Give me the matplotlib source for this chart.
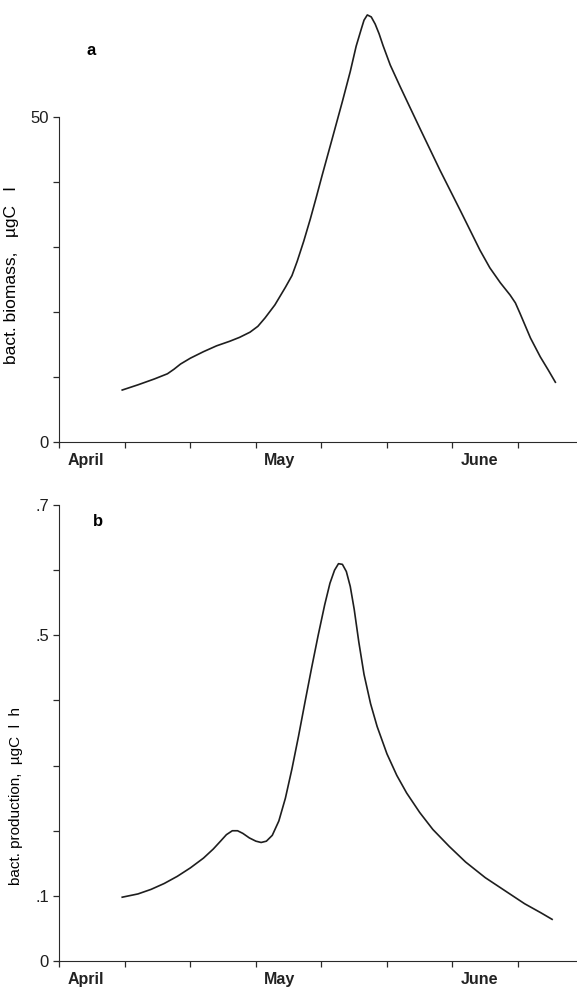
import matplotlib.pyplot as plt

# days counted from 1 April
day_a = [9.6, 12, 14.5, 16.5, 17.5, 18.5, 20, 22, 24, 26, 27.5, 29.1, 30.3, 31.4, 32.9, 34.5,
         35.5, 36.3, 37.3, 38.3, 39.2, 40.1, 41.6, 43.2, 44.4, 45.3, 46.1, 46.5, 47.0, 47.6,
         48.2, 48.8, 49.4, 50.5, 52.0, 53.5, 55.1, 58.1, 61.2, 64.2, 65.7, 67.3, 68.8, 69.6,
         70.3, 71.1, 71.9, 73.4, 74.6, 75.7]
biomass = [8.0, 8.8, 9.7, 10.5, 11.2, 12.0, 12.9, 13.9, 14.8, 15.5, 16.1, 16.9, 17.8, 19.1,
           21.1, 23.8, 25.6, 27.8, 30.9, 34.3, 37.6, 41.0, 46.5, 52.4, 57.0, 60.9, 63.6, 64.9,
           65.7, 65.4, 64.3, 62.8, 61.0, 58.0, 54.7, 51.5, 48.1, 41.8, 35.6, 29.5, 26.8, 24.5,
           22.6, 21.4, 19.8, 17.9, 16.0, 13.1, 11.1, 9.2]

day_b = [9.6, 12, 14, 16, 18, 20, 22, 23.5, 24.6, 25.5, 26.4, 27.2, 28, 29, 30, 30.8, 31.6,
         32.5, 33.5, 34.5, 35.5, 36.5, 37.5, 38.5, 39.5, 40.5, 41.3, 42, 42.6, 43.2, 43.8,
         44.4, 45, 45.7, 46.5, 47.5, 48.5, 50, 51.5, 53, 55, 57, 59.5, 62, 65, 68, 71, 73.5, 75.2]
production = [0.098, 0.103, 0.110, 0.119, 0.130, 0.143, 0.158, 0.172, 0.184, 0.194, 0.200,
              0.200, 0.196, 0.189, 0.184, 0.182, 0.184, 0.193, 0.215, 0.250, 0.295, 0.345,
              0.398, 0.450, 0.500, 0.547, 0.580, 0.600, 0.610, 0.609, 0.598, 0.575, 0.540,
              0.490, 0.440, 0.395, 0.360, 0.318, 0.285, 0.258, 0.228, 0.202, 0.176, 0.152,
              0.128, 0.108, 0.088, 0.074, 0.064]

ticks_x = [0, 10, 20, 30, 40, 50, 60, 70]
months = ['April', 'May', 'June']
month_pos = [0, 30, 60]

plt.rcParams['font.family'] = ['Liberation Sans', 'DejaVu Sans']

fig = plt.figure(figsize=(5.77, 9.88), dpi=100)
ax1 = fig.add_axes([0.1028, 0.5526, 0.8972, 0.4474])
ax2 = fig.add_axes([0.1028, 0.0273, 0.8972, 0.4615])

ax1.plot(day_a, biomass, color='#1e1e1e', lw=1.2)
ax2.plot(day_b, production, color='#1e1e1e', lw=1.2)

for ax in (ax1, ax2):
    ax.set_xlim(0, 79)
    ax.spines['top'].set_visible(False)
    ax.spines['right'].set_visible(False)
    for s in ('left', 'bottom'):
        ax.spines[s].set_color('#2a2a2a')
    ax.set_xticks(ticks_x)
    ax.set_xticklabels([])
    ax.tick_params(direction='out', length=4, width=0.9, labelsize=12, colors='#2a2a2a',
                   labelcolor='#1e1e1e')
    for m, p in zip(months, month_pos):
        ax.annotate(m, (p, 0), xytext=(6, -8), textcoords='offset points',
                    ha='left', va='top', fontsize=11.5, fontweight='bold', color='#222222')

ax1.set_ylim(0, 68)
ax1.spines['left'].set_bounds(0, 50)
ax1.set_yticks([0, 10, 20, 30, 40, 50])
ax1.set_yticklabels(['0', '', '', '', '', '50'])
ax1.set_ylabel('bact. biomass,   \u00b5gC   l', fontsize=12.5)
ax1.yaxis.set_label_coords(-0.078, 0.378)
ax1.text(0.053, 0.875, 'a', transform=ax1.transAxes, fontsize=12, fontweight='bold')

ax2.set_ylim(0, 0.7)
ax2.set_yticks([0, 0.1, 0.2, 0.3, 0.4, 0.5, 0.6, 0.7])
ax2.set_yticklabels(['0', '.1', '', '', '', '.5', '', '.7'])
ax2.set_ylabel('bact. production,  \u00b5gC  l  h', fontsize=11)
ax2.yaxis.set_label_coords(-0.07, 0.362)
ax2.text(0.065, 0.955, 'b', transform=ax2.transAxes, fontsize=12, fontweight='bold')

fig.savefig('out.png', dpi=100)
